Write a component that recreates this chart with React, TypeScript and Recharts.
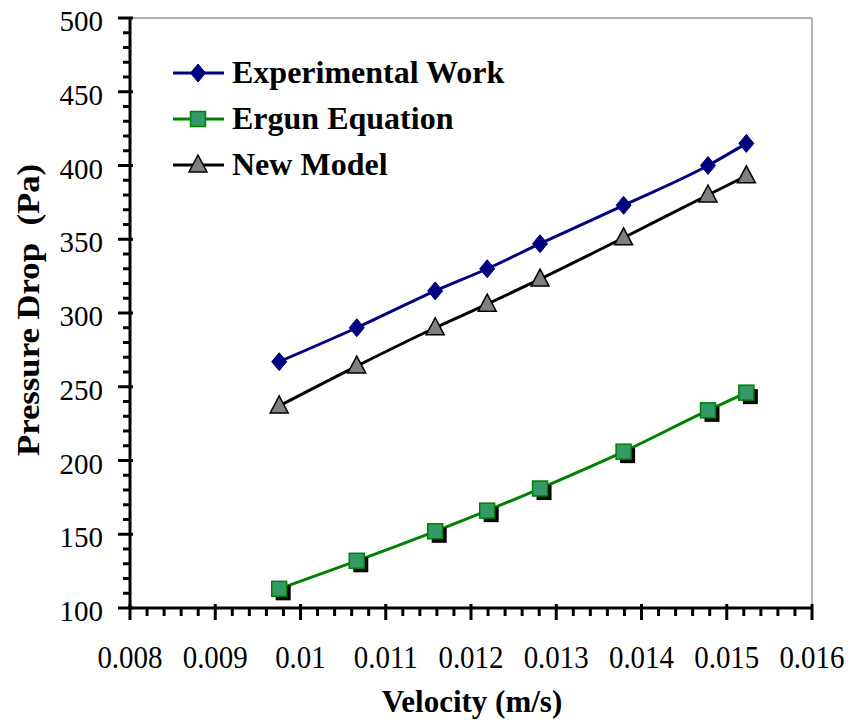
import { LineChart, Line, XAxis, YAxis, Legend, ReferenceLine } from 'recharts';

const velocity = [0.00975, 0.01066, 0.01158, 0.01219, 0.01281, 0.01379, 0.01478, 0.01523];
const experimental = [267, 290, 315, 330, 347, 373, 400, 415];
const ergun = [113, 132, 152, 166, 181, 206, 234, 246];
const newModel = [237, 264, 290, 306, 323, 351, 380, 393];

const xMajor = [0.008, 0.009, 0.01, 0.011, 0.012, 0.013, 0.014, 0.015, 0.016];
const yMajor = [100, 150, 200, 250, 300, 350, 400, 450, 500];

const data = velocity.map((v, i) => ({
  v,
  exp: experimental[i],
  ergun: ergun[i],
  model: newModel[i],
}));

// minor ticks: 5 per major step
const xTicks: number[] = [];
for (let i = 0; i <= 40; i++) xTicks.push(+(0.008 + i * 0.0002).toFixed(4));
const yTicks: number[] = [];
for (let i = 0; i <= 40; i++) yTicks.push(100 + i * 10);

const FONT = '"Liberation Serif", "Times New Roman", serif';
const serif = { fontFamily: FONT };

const isMajor = (val: number, majors: number[]) => majors.some((m) => Math.abs(m - val) < 1e-9);

const XTick = ({ x, y, payload }: any) => {
  const major = isMajor(payload.value, xMajor);
  const by = y + 668 - 608;
  return (
    <g>
      <line x1={x} x2={x} y1={major ? y - 4 : y} y2={major ? y + 12 : y + 8} stroke="#000" strokeWidth={3} />
      {major && (
        <text
          x={x}
          y={by}
          textAnchor="middle"
          style={serif}
          fontSize={29}
          fill="#000"
          transform={`translate(0 ${by}) scale(1 1.12) translate(0 ${-by})`}
        >
          {String(payload.value)}
        </text>
      )}
    </g>
  );
};

const YTick = ({ x, y, payload }: any) => {
  const major = isMajor(payload.value, yMajor);
  return (
    <g>
      <line x1={major ? x - 12 : x - 7} x2={major ? x + 3 : x} y1={y} y2={y} stroke="#000" strokeWidth={3} />
      {major && (
        <text x={x - 27} y={y + 13} textAnchor="end" style={serif} fontSize={29} fill="#000">
          {payload.value}
        </text>
      )}
    </g>
  );
};

const Diamond = ({ cx, cy }: any) => {
  if (cx == null || cy == null) return null;
  return (
    <path
      d={`M${cx},${cy - 9}L${cx + 7.5},${cy}L${cx},${cy + 9}L${cx - 7.5},${cy}Z`}
      fill="#000080"
      stroke="#000080"
      strokeWidth={1}
    />
  );
};

const Square = ({ cx, cy, shadow = true }: any) => {
  if (cx == null || cy == null) return null;
  const s = 15;
  return (
    <g>
      {shadow && <rect x={cx - s / 2 + 4} y={cy - s / 2 + 4} width={s} height={s} fill="#000" />}
      <rect x={cx - s / 2} y={cy - s / 2} width={s} height={s} fill="#339966" stroke="#008000" strokeWidth={1.5} />
    </g>
  );
};

const Triangle = ({ cx, cy }: any) => {
  if (cx == null || cy == null) return null;
  return <path d={`M${cx},${cy - 10}L${cx + 9},${cy + 7}L${cx - 9},${cy + 7}Z`} fill="#808080" stroke="#000" strokeWidth={1.5} />;
};

const legendItems = [
  { label: 'Experimental Work', color: '#000080', Icon: Diamond },
  { label: 'Ergun Equation', color: '#008000', Icon: Square },
  { label: 'New Model', color: '#000', Icon: Triangle },
];

const LegendBox = () => (
  <svg width={420} height={140}>
    {legendItems.map((it, i) => {
      const cy = 18 + i * 46;
      return (
        <g key={it.label}>
          <line x1={3} x2={54} y1={cy} y2={cy} stroke={it.color} strokeWidth={3} />
          <it.Icon cx={28} cy={cy} shadow={false} />
          <text x={62} y={cy + 10} style={serif} fontWeight="bold" fontSize={32} fill="#000">
            {it.label}
          </text>
        </g>
      );
    })}
  </svg>
);

export default function App() {
  return (
    <div style={{ position: 'absolute', left: 0, top: 0, width: 853, height: 720, background: '#fff' }}>
      <LineChart width={853} height={720} data={data} margin={{ top: 18, right: 41, bottom: 0, left: 0 }}>
        <XAxis
          dataKey="v"
          type="number"
          domain={[0.008, 0.016]}
          ticks={xTicks}
          interval={0}
          tick={<XTick />}
          tickSize={0}
          tickMargin={0}
          tickLine={false}
          axisLine={{ stroke: '#000', strokeWidth: 3 }}
          height={112}
          allowDataOverflow
        />
        <YAxis
          type="number"
          domain={[100, 500]}
          ticks={yTicks}
          interval={0}
          tick={<YTick />}
          tickSize={0}
          tickMargin={0}
          tickLine={false}
          axisLine={{ stroke: '#000', strokeWidth: 3 }}
          width={130}
          allowDataOverflow
        />
        <ReferenceLine y={500} stroke="#999" strokeWidth={1.5} />
        <ReferenceLine x={0.016} stroke="#999" strokeWidth={1.5} />
        <Line dataKey="exp" type="monotone" stroke="#000080" strokeWidth={3} dot={<Diamond />} isAnimationActive={false} />
        <Line dataKey="model" type="monotone" stroke="#000" strokeWidth={3} dot={<Triangle />} isAnimationActive={false} />
        <Line dataKey="ergun" type="monotone" stroke="#008000" strokeWidth={3} dot={<Square />} isAnimationActive={false} />
        <Legend
          layout="vertical"
          align="center"
          verticalAlign="middle"
          content={() => <LegendBox />}
          wrapperStyle={{ left: 170, top: 55, width: 420, height: 140 }}
        />
        <text x={472} y={712} textAnchor="middle" style={serif} fontWeight="bold" fontSize={31} fill="#000">
          Velocity (m/s)
        </text>
        <text
          x={0}
          y={0}
          textAnchor="middle"
          fontWeight="bold"
          fontSize={31}
          fill="#000"
          transform="translate(39 310) rotate(-90) scale(1.12 1)"
          style={{ ...serif, whiteSpace: 'pre' }}
        >
          {'Pressure Drop  (Pa)'}
        </text>
      </LineChart>
    </div>
  );
}
